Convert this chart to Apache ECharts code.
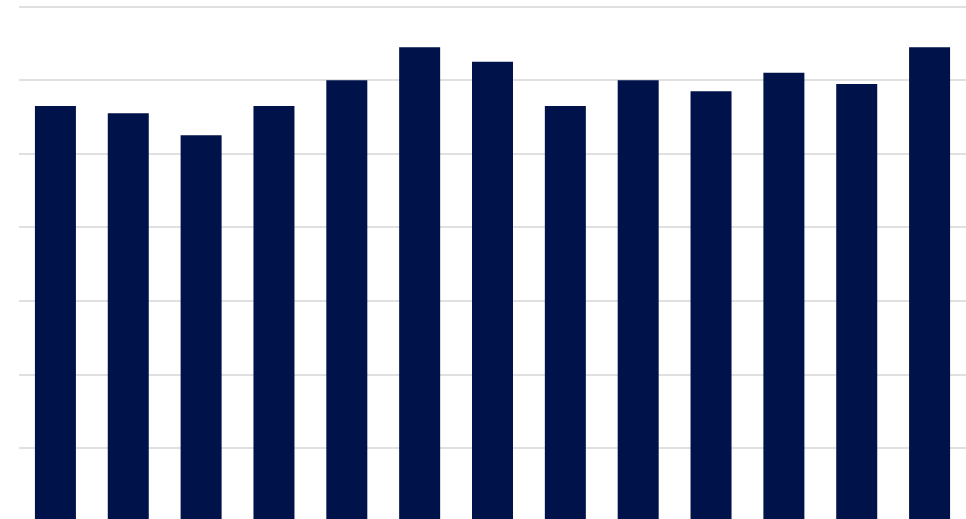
<!DOCTYPE html>
<html>
<head>
<meta charset="utf-8">
<script src="https://cdn.jsdelivr.net/npm/echarts@6/dist/echarts.min.js"></script>
<style>
html,body{margin:0;padding:0;background:#fff;overflow:hidden;}
#chart{width:966px;height:524px;}
</style>
</head>
<body>
<div id="chart"></div>
<script>
var categories = ['1','2','3','4','5','6','7','8','9','10','11','12','13'];
var values = [56.5, 55.5, 52.5, 56.5, 60, 64.5, 62.5, 56.5, 60, 58.5, 61, 59.5, 64.5];
var yMin = 0, yMax = 70, yInterval = 10;

var chart = echarts.init(document.getElementById('chart'));
chart.setOption({
  animation: false,
  backgroundColor: '#ffffff',
  grid: { left: 19, right: 0, top: 6.7, bottom: 2.7, containLabel: false },
  xAxis: {
    type: 'category',
    data: categories,
    axisLine: { show: false },
    axisTick: { show: false },
    axisLabel: { show: false }
  },
  yAxis: {
    type: 'value',
    min: yMin, max: yMax, interval: yInterval,
    axisLine: { show: false },
    axisTick: { show: false },
    axisLabel: { show: false },
    splitLine: { lineStyle: { color: '#e0e0e0', width: 2 } }
  },
  series: [{
    type: 'bar',
    data: values,
    barWidth: 41,
    itemStyle: { color: '#00124a' }
  }]
});
</script>
</body>
</html>
